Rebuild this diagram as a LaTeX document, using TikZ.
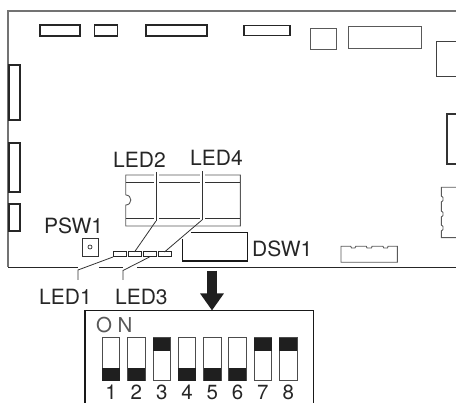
\documentclass[tikz,border=0pt]{standalone}
\usepackage{fontspec}
\setmainfont{TeX Gyre Heros}
\usetikzlibrary{positioning, arrows.meta}
\tikzstyle{BigArrow} = [
    draw=black!88, line width=9.4pt,
    -{Triangle[length=17pt, width=22.6pt, fill=black!88]},
    shorten >= 0pt
]
\tikzstyle{Leader} = [draw=black!80, line width=0.8pt]

\begin{document}
\begin{tikzpicture}[
x=1pt, y=-1pt,
txt/.style={inner sep=0pt, font=\fontsize{21}{24}\selectfont, text=black!85},
conn/.style={rectangle, draw=black!85, line width=1.5pt, inner sep=0pt, outer sep=0pt},
part/.style={rectangle, draw=black!65, line width=0.9pt, inner sep=0pt, outer sep=0pt},
slot/.style={rectangle, draw=black!70, line width=0.9pt, inner sep=0pt, outer sep=0pt,
    minimum width=17.5pt, minimum height=43pt},
thumb/.style={rectangle, fill=black!88, inner sep=0pt, outer sep=0pt,
    minimum width=17.5pt, minimum height=13pt},
halo/.style={preaction={draw=white, line width=5pt}}
]
\useasboundingbox (0,0) rectangle (456,403);

% board outline
\draw[draw=black!55, line width=1.1pt] (456,11) -- (8,11) -- (8,267);
\draw[draw=black!85, line width=0.8pt] (8,267) -- (78,267);
\draw[draw=black!85, line width=0.8pt] (99,267) -- (123,267);
\draw[draw=black!85, line width=0.8pt] (137,267) -- (456,267);

% connectors along the edges
\node[conn, minimum width=40pt, minimum height=11pt] (cn1) at (60,30.5) {};
\node[conn, minimum width=23pt, minimum height=11pt] (cn2) at (106,30.5) {};
\node[conn, minimum width=61pt, minimum height=11pt] (cn3) at (176.5,30.5) {};
\node[conn, minimum width=46pt, minimum height=10pt] (cn4) at (267,30.7) {};
\node[conn, minimum width=11pt, minimum height=55pt] (cn5) at (14.5,92.5) {};
\node[conn, minimum width=11pt, minimum height=49pt] (cn6) at (14.5,167.5) {};
\node[conn, minimum width=11pt, minimum height=27pt] (cn7) at (14.5,217.5) {};
\node[part, minimum width=26pt, minimum height=21pt] (cn8) at (323,38.5) {};
\node[part, minimum width=73pt, minimum height=22pt] (cn9) at (384.5,37.5) {};
\draw[draw=black!75, line width=0.9pt] (456,41) -- (436,41) -- (436,76) -- (456,76);
\draw[draw=black!80, line width=1.3pt] (456,114) -- (447,114) -- (447,164) -- (456,164);

% notched headers
\draw[part] (341,246.3) -- (350.7,246.3) -- (351.5,248) -- (355,248) -- (355.8,246.3)
    -- (366.3,246.3) -- (367,248) -- (371.5,248) -- (372,246.3)
    -- (383,246.3) -- (383.8,248) -- (387.5,248) -- (388,246.3)
    -- (397.3,246.3) -- (397.3,262.3) -- (341,262.3) -- cycle;
\draw[part] (456,187.3) -- (441.3,187.3) -- (441.3,196) -- (443,197.5) -- (443,200.5) -- (441.3,202)
    -- (441.3,211) -- (443,212.5) -- (443,215.5) -- (441.3,217)
    -- (441.3,225) -- (443,226.5) -- (443,229.5) -- (441.3,231)
    -- (441.3,237.7) -- (456,237.7);

% chip
\draw[part] (125.7,195) -- (125.7,175) -- (240.3,175) -- (240.3,226) -- (125.7,226) -- (125.7,205)
    .. controls (132.5,205) and (132.5,195) .. (125.7,195);
\draw[draw=black!80, line width=0.9pt] (125.7,182.3) -- (240.3,182.3);
\draw[draw=black!80, line width=0.9pt] (125.7,218.3) -- (240.3,218.3);

% push switch and LEDs
\node[part, draw=black!80, minimum width=16pt, minimum height=18pt] (psw1) at (90,247) {};
\node[circle, draw=black!80, line width=0.7pt, inner sep=0pt, minimum size=4pt] (psw1hole) at (psw1.center) {};
\node[conn, line width=1pt, minimum width=13pt, minimum height=5pt] (led1) at (119.5,254.5) {};
\node[conn, line width=1pt, right=2pt of led1, minimum width=13pt, minimum height=5pt] (led2) {};
\node[conn, line width=1pt, right=2pt of led2, minimum width=13pt, minimum height=5pt] (led3) {};
\node[conn, line width=1pt, right=2pt of led3, minimum width=13pt, minimum height=5pt] (led4) {};

% DIP switch outline on the board
\draw[draw=black!90, line width=1.1pt] (191,232.7) -- (247.3,232.7) -- (247.3,261) -- (182.3,261) -- (182.3,239);

% labels
\node[txt, anchor=base west] (psw1txt) at (44,234) {PSW1};
\node[txt, anchor=base west] (led2txt) at (113,168) {LED2};
\node[txt, anchor=base west] (led4txt) at (190,165.5) {LED4};
\node[txt, anchor=base west] (dsw1txt) at (252,257) {DSW1};
\node[txt, anchor=base west] (led1txt) at (39,305) {LED1};
\node[txt, base right=23pt of led1txt] (led3txt) {LED3};

% leaders
\coordinate (led2top) at (156,172);
\coordinate (led2knee) at (156,221);
\coordinate (led4top) at (202,171);
\coordinate (led4knee) at (202,220);
\coordinate (led1knee) at (78,270);
\coordinate (led1end) at (78,280);
\coordinate (led3knee) at (123,270.5);
\coordinate (led3end) at (123,280);
\draw[Leader, halo] (led2top) -- (led2knee);
\draw[Leader, halo] (led4top) -- (led4knee);
\draw[Leader] (led2knee) -- (led2.north);
\draw[Leader] (led4knee) -- (led4.north);
\draw[Leader] (led1.south west) -- (led1knee) -- (led1end);
\draw[Leader] (led3.south) -- (led3knee) -- (led3end);

% big arrow down to the switch detail
\coordinate (arrowtop) at (212,270.7);
\coordinate (arrowtip) at (212,310.5);
\draw[BigArrow] (arrowtop) -- (arrowtip);

% switch detail
\coordinate (boxbl) at (85,403);
\coordinate (boxtl) at (85,310.7);
\coordinate (boxtr) at (313.7,310.7);
\coordinate (boxbr) at (313.7,403);
\draw[draw=black!90, line width=1.2pt] (boxbl) -- (boxtl) -- (boxtr) -- (boxbr);
\node[inner sep=0pt, anchor=base west, text=black!65, font=\fontsize{20.5}{22}\selectfont] (ontxt) at (96,333) {O\hspace{5.5pt}N};

\foreach \n/\up in {1/0, 2/0, 3/1, 4/0, 5/0, 6/0, 7/1, 8/1} {
    \node[slot] (slot\n) at ({111.1+25.3*(\n-1)},359.2) {};
    \ifnum\up=1
        \node[thumb, anchor=north] (thumb\n) at (slot\n.north) {};
    \else
        \node[thumb, anchor=south] (thumb\n) at (slot\n.south) {};
    \fi
    \node[below=4.5pt of slot\n, inner sep=0pt, text=black!85, font=\fontsize{20.5}{22}\selectfont] (num\n) {\n};
}

\end{tikzpicture}
\end{document}
